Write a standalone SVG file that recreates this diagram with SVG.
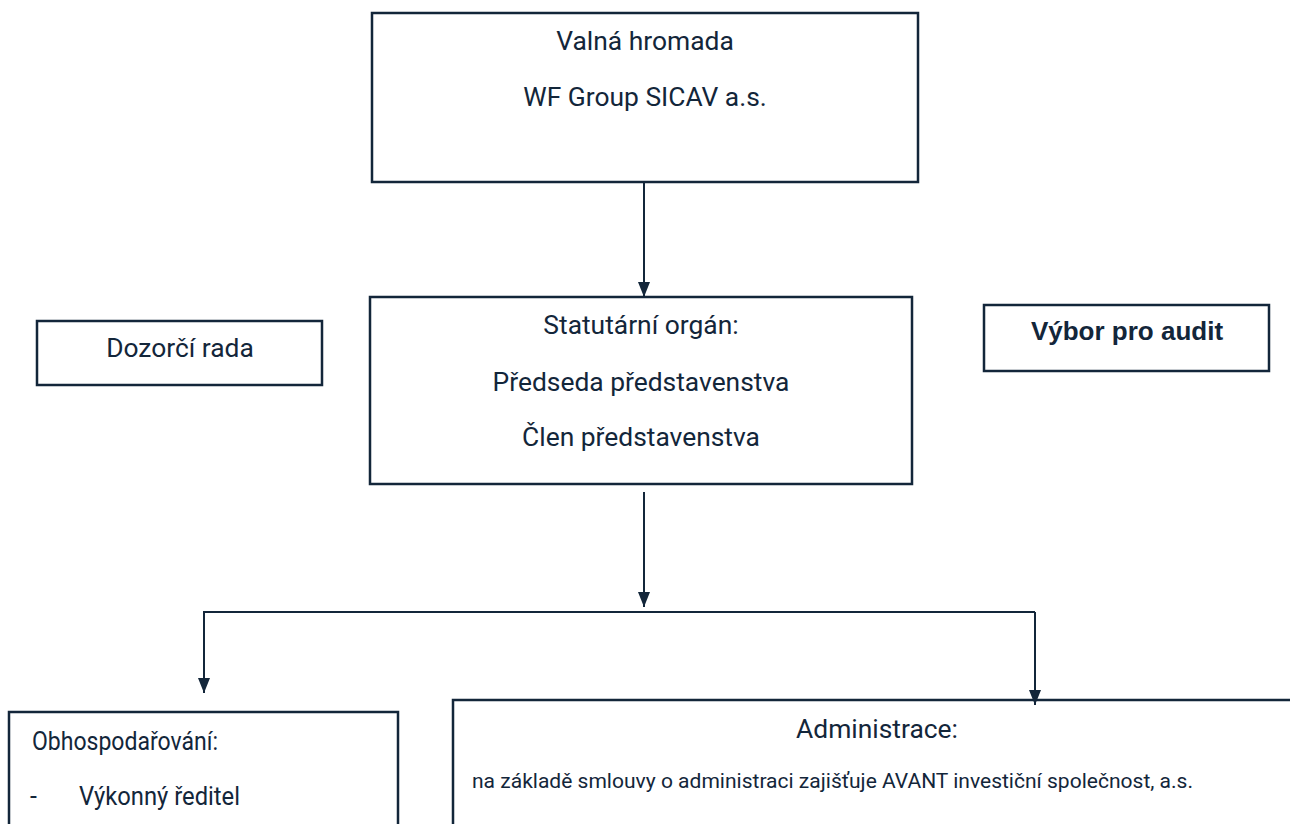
<svg xmlns="http://www.w3.org/2000/svg" width="1290" height="824" viewBox="0 0 1290 824">
<defs>
<style>
.box{fill:#fff;stroke:#13263a;stroke-width:2.5}
.t{font-family:Roboto,"Liberation Sans",sans-serif;fill:#13263a;font-size:26.4px}
.s{font-size:25px}
.c{text-anchor:middle}
.b{font-family:"Liberation Sans",Arial,sans-serif;font-weight:bold;font-size:26px;fill:#13263a}
.ln{fill:none;stroke:#13263a;stroke-width:2}
</style>
<marker id="ah" viewBox="0 0 15 12" refX="15" refY="6" markerWidth="15" markerHeight="12" markerUnits="userSpaceOnUse" orient="auto">
<path d="M0,0 L15,6 L0,12 Z" fill="#13263a"/>
</marker>
</defs>
<rect width="1290" height="824" fill="#fff"/>
<g id="valna">
<rect class="box" x="372" y="13" width="546" height="169"/>
<text class="t c" x="645" y="50">Valná hromada</text>
<text class="t c" x="645" y="106">WF Group SICAV a.s.</text>
</g>
<g id="statutarni">
<rect class="box" x="370" y="297" width="542" height="187"/>
<text class="t c" x="641" y="334">Statutární orgán:</text>
<text class="t c" x="641" y="391">Předseda představenstva</text>
<text class="t c" x="641" y="446">Člen představenstva</text>
</g>
<g id="dozorci">
<rect class="box" x="37" y="321" width="285" height="64"/>
<text class="t c" x="180" y="357">Dozorčí rada</text>
</g>
<g id="vybor">
<rect class="box" x="984" y="305" width="285" height="66"/>
<text class="b c" x="1127" y="340">Výbor pro audit</text>
</g>
<g id="obhospodarovani">
<rect class="box" x="9" y="712" width="389" height="130"/>
<text class="t s" x="32" y="750" textLength="186" lengthAdjust="spacingAndGlyphs">Obhospodařování:</text>
<text class="t s" x="30" y="805">-</text>
<text class="t s" x="79" y="805" textLength="161" lengthAdjust="spacingAndGlyphs">Výkonný ředitel</text>
</g>
<g id="administrace">
<rect class="box" x="453" y="700" width="860" height="150"/>
<text class="t c" x="877" y="738">Administrace:</text>
<text class="t" x="472" y="788" style="font-size:21px" textLength="721" lengthAdjust="spacingAndGlyphs">na základě smlouvy o administraci zajišťuje AVANT investiční společnost, a.s.</text>
</g>
<g id="connectors">
<path class="ln" d="M644,183 V297" marker-end="url(#ah)"/>
<path class="ln" d="M644,492 V607" marker-end="url(#ah)"/>
<path class="ln" d="M1035,612 H204 V693" marker-end="url(#ah)"/>
<path class="ln" d="M1035,612 V705" marker-end="url(#ah)"/>
</g>
</svg>
